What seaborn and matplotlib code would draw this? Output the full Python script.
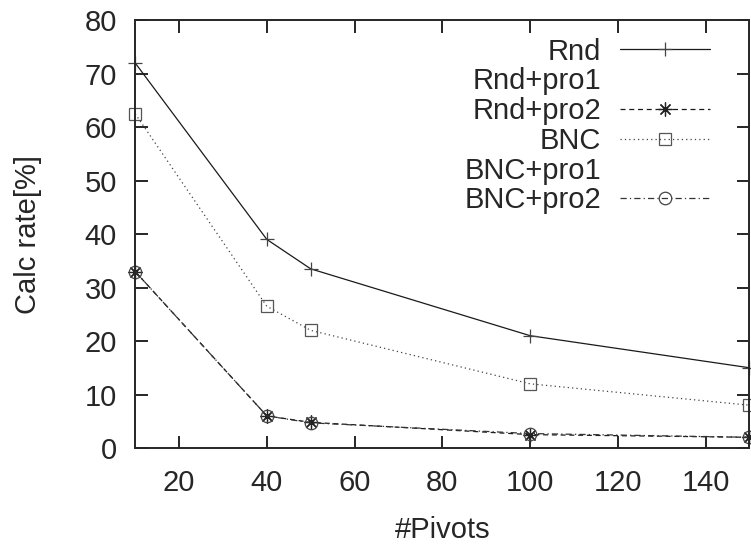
import numpy as np
import pandas as pd
import matplotlib
matplotlib.use("Agg")
import matplotlib.pyplot as plt
import seaborn as sns

# -----------------------------
# Data
# -----------------------------
pivots = [10, 40, 50, 100, 150]
rnd = [72.0, 39.0, 33.5, 21.0, 15.0]
rnd_pro1 = [33.0, 6.2, 5.0, 2.6, 2.0]
rnd_pro2 = [33.0, 6.0, 4.8, 2.5, 2.0]
bnc = [62.5, 26.5, 22.0, 12.0, 8.0]
bnc_pro1 = [33.0, 6.1, 4.9, 2.7, 2.0]
bnc_pro2 = [33.0, 6.0, 4.7, 2.7, 2.0]

labels = ["Rnd", "Rnd+pro1", "Rnd+pro2", "BNC", "BNC+pro1", "BNC+pro2"]
series = [rnd, rnd_pro1, rnd_pro2, bnc, bnc_pro1, bnc_pro2]

# gnuplot-like styles; pro1 entries have no visible sample in the legend
styles = {
    "Rnd": dict(linestyle="-", marker="+", markersize=10, color="#1a1a1a",
                markeredgecolor="#444444"),
    "Rnd+pro1": dict(linestyle="none", marker="none", color="#1a1a1a"),
    "Rnd+pro2": dict(linestyle=(0, (4, 3)), marker=(8, 2, 0), markersize=10,
                     color="#1a1a1a", markeredgecolor="#222222"),
    "BNC": dict(linestyle=(0, (1, 2.5)), marker="s", markersize=9, color="#444444",
                markerfacecolor="none", markeredgecolor="#555555"),
    "BNC+pro1": dict(linestyle="none", marker="none", color="#1a1a1a"),
    "BNC+pro2": dict(linestyle=(0, (5, 2.5, 1, 2.5)), marker="o", markersize=9,
                     color="#333333", markerfacecolor="none",
                     markeredgecolor="#444444"),
}

sns.set_style("ticks")
plt.rcParams["font.family"] = ["Liberation Sans", "DejaVu Sans"]

fig = plt.figure(figsize=(7.51, 5.45), dpi=100)
ax = fig.add_axes([0.18, 0.178, 0.818, 0.785])

for lab, vals in zip(labels, series):
    df = pd.DataFrame({"x": pivots, "y": vals})
    sns.lineplot(data=df, x="x", y="y", ax=ax, label=lab, linewidth=0.9,
                 markeredgewidth=0.9, clip_on=False, **styles[lab])

ax.set_xlim(10, 150)
ax.set_ylim(0, 80)
ax.set_xticks(range(20, 160, 20))
ax.set_yticks(range(0, 90, 10))
ax.tick_params(direction="in", top=True, right=True, length=9, width=1.4,
               labelsize=21, pad=13)
ax.tick_params(axis="x", pad=15)
for sp in ax.spines.values():
    sp.set_linewidth(1.4)
ax.set_xlabel("#Pivots", fontsize=21, labelpad=14)
ax.set_ylabel("Calc rate[%]", fontsize=21, labelpad=31)

leg = ax.legend(loc="upper right", bbox_to_anchor=(0.965, 1.0), frameon=False,
                markerfirst=False, fontsize=21, handlelength=3.1, labelspacing=0.06,
                handletextpad=0.65, borderaxespad=0.2)

plt.savefig("out.png", dpi=100)
plt.close()
